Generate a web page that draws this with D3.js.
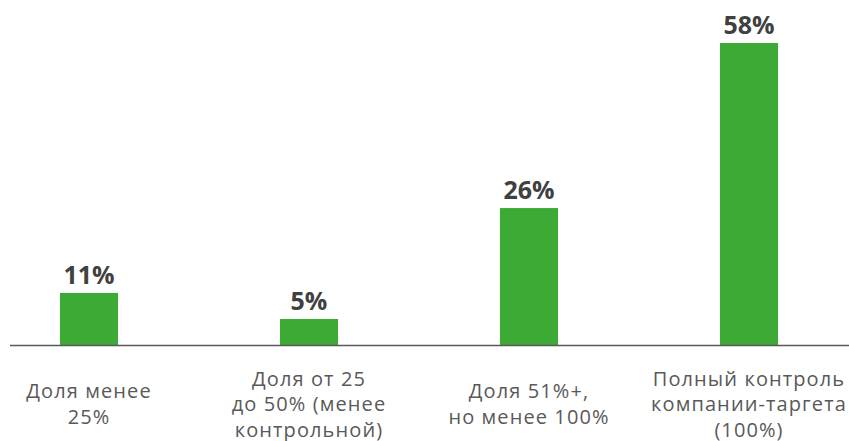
<!DOCTYPE html>
<html>
<head>
<meta charset="utf-8">
<script src="https://cdn.jsdelivr.net/npm/d3@7"></script>
<style>
    html, body { margin: 0; padding: 0; background: #fff; }
</style>
</head>
<body>
<div id="chart"></div>
<script>
    var categories = [
        ["Доля менее", "25%"],
        ["Доля от 25", "до 50% (менее", "контрольной)"],
        ["Доля 51%+,", "но менее 100%"],
        ["Полный контроль", "компании-таргета", "(100%)"]
    ];
    var values = [10, 5, 26.3, 58];
    var valueLabels = ["11%", "5%", "26%", "58%"];

    var width = 849,
        height = 441,
        baseline = 345;

    var svg = d3.select("#chart")
        .append("svg")
        .attr("width", width)
        .attr("height", height)

    var x = d3.scaleBand()
        .domain(d3.range(categories.length))
        .range([-21, 859])
        .paddingInner(0.736)
        .paddingOuter(0.368)

    var y = d3.scaleLinear()
        .domain([0, 58])
        .range([baseline, 43])

    svg.selectAll(".bar")
        .data(values)
        .enter().append("rect")
        .attr("class", "bar")
        .attr("x", function (d, i) { return x(i) })
        .attr("width", x.bandwidth())
        .attr("y", function (d) { return y(d) })
        .attr("height", function (d) { return baseline - y(d) })
        .attr("fill", "#3daa35")

    svg.append("line")
        .attr("x1", 10)
        .attr("x2", width)
        .attr("y1", baseline + 0.5)
        .attr("y2", baseline + 0.5)
        .attr("stroke", "#595959")
        .attr("stroke-width", 1.5)

    svg.selectAll(".value")
        .data(values)
        .enter().append("text")
        .attr("class", "value")
        .attr("x", function (d, i) { return x(i) + x.bandwidth() / 2 })
        .attr("y", function (d) { return y(d) - 9 })
        .attr("text-anchor", "middle")
        .style("font-family", "'Open Sans', sans-serif")
        .style("font-weight", "bold")
        .style("font-size", "25px")
        .attr("fill", "#404040")
        .text(function (d, i) { return valueLabels[i] })

    var lineHeight = 25.5;
    var labels = svg.selectAll(".cat")
        .data(categories)
        .enter().append("text")
        .attr("class", "cat")
        .attr("text-anchor", "middle")
        .style("font-family", "'Open Sans', sans-serif")
        .style("font-size", "20px")
        .style("letter-spacing", "1.1px")
        .attr("fill", "#595959")

    labels.each(function (lines, i) {
        var first = 411 - (lines.length - 1) * lineHeight / 2;
        d3.select(this).selectAll("tspan")
            .data(lines)
            .enter().append("tspan")
            .attr("x", x(i) + x.bandwidth() / 2)
            .attr("y", function (d, j) { return first + j * lineHeight })
            .text(function (d) { return d })
    })
</script>
</body>
</html>
